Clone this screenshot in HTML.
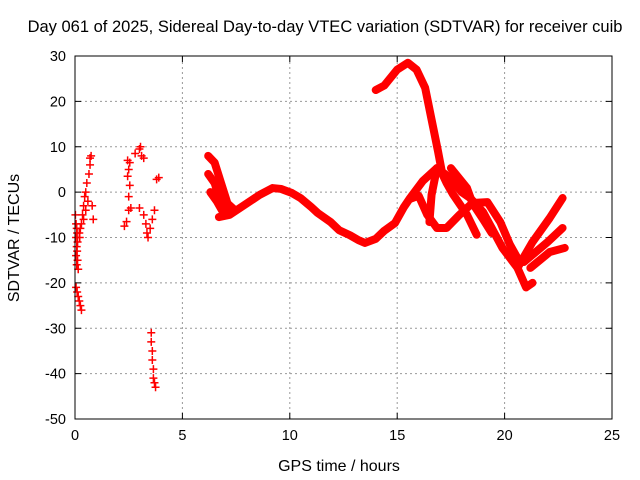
<!DOCTYPE html>
<html><head><meta charset="utf-8"><style>
body{margin:0;background:#fff}
svg{display:block;font-family:"Liberation Sans",sans-serif}
</style></head><body>
<svg id="chart" width="640" height="480">
<rect x="0" y="0" width="640" height="480" fill="#fff"/>
<text x="325" y="32" text-anchor="middle" font-size="16.5">Day 061 of 2025, Sidereal Day-to-day VTEC variation (SDTVAR) for receiver cuib</text>
<text x="339" y="471" text-anchor="middle" font-size="16">GPS time / hours</text>
<text transform="translate(19,238) rotate(-90)" text-anchor="middle" font-size="16">SDTVAR / TECUs</text>
<g id="grid"></g>
<g id="ticks"></g>
<g id="series"></g>
<rect x="75" y="56" width="537" height="363" fill="none" stroke="#000" stroke-width="1"/>
</svg>
<script>
const xTicks=[0,5,10,15,20,25];
const yTicks=[30,20,10,0,-10,-20,-30,-40,-50];
// dense curves (hours, TECU)
const curveTop=[[6.2,8.0],[6.5,6.5],[6.8,2],[7.1,-2.5],[7.4,-3.8]];
const curveMid=[[6.2,4],[6.5,2],[6.8,-2.5],[7.1,-4.5]];
const curveLow=[[6.3,0],[6.6,-2],[6.9,-4.5]];
const curveMain=[[6.7,-5.5],[7.2,-5],[7.9,-2.8],[8.6,-0.6],[9.2,0.9],[9.6,0.7],[10.1,-0.2],[10.5,-1.3],[11.0,-3.3],[11.3,-4.6],[11.9,-6.6],[12.3,-8.4],[12.8,-9.5],[13.2,-10.6],[13.5,-11.2],[14.0,-10.3],[14.4,-8.5],[14.9,-6.8],[15.3,-3.4],[15.6,-1.3],[16.2,2.5],[16.85,5.3],[17.5,3],[18.0,0],[18.4,-1.3],[19.0,-4.4],[19.9,-12.3],[20.6,-16.7],[21.0,-21],[21.3,-20]];
const curvePeak=[[14.0,22.5],[14.4,23.5],[15.0,27],[15.5,28.5],[15.9,27],[16.3,23],[16.6,16],[16.9,9],[17.1,4],[17.3,2],[17.6,-0.5],[18.25,-5],[18.7,-9.4]];
const curveCross=[[15.6,-1.5],[16.0,-0.8],[16.4,-5],[16.85,-7.9],[17.3,-7.9],[17.9,-5],[18.5,-2.4],[19.2,-2.2],[19.8,-6.6],[20.25,-11.6],[20.7,-15.4]];
const curveCross2=[[16.85,5.3],[16.6,-0.6],[16.5,-6.6]];
const curveCross3=[[17.5,5.3],[18.25,0.9],[18.5,-2.4],[19.0,-6],[19.4,-9]];
const curveRise1=[[20.6,-16.7],[21.3,-11],[22.1,-5.7],[22.7,-1.3]];
const curveRise2=[[20.9,-15.4],[22.0,-11],[22.7,-7.9]];
const curveRise3=[[21.2,-16.7],[22.1,-13.2],[22.8,-12.3]];
const curves=[curveTop,curveMid,curveLow,curveMain,curvePeak,curveCross,curveCross2,curveCross3,curveRise1,curveRise2,curveRise3];
// sparse marker points
const scatterPts=[[0.02,-5],[0.05,-7],[0.08,-8],[0.1,-9],[0.05,-10],[0.12,-11],[0.08,-12],[0.1,-13],[0.05,-14],[0.12,-15],[0.08,-16],[0.15,-17],[0.2,-9],[0.25,-8],[0.22,-10],
[0.05,-21],[0.1,-22],[0.15,-23],[0.2,-24],[0.25,-25],[0.3,-26],
[0.3,-7],[0.35,-5],[0.4,-3],[0.45,-1],[0.5,0],[0.55,2],[0.6,-2],[0.65,4],[0.7,6],[0.75,8],[0.7,7.5],[0.8,-3],[0.85,-6],[0.4,-6],[0.5,-4],
[2.3,-7.5],[2.4,-6.5],[2.5,-4],[2.6,-3.5],[2.45,3.5],[2.5,5],[2.45,7],[2.55,6.5],[2.5,-1],[2.55,1.5],
[2.8,8.5],[3.0,9.5],[3.05,10],[3.1,8],[3.2,7.5],
[3.0,-3.5],[3.2,-5],[3.3,-7],[3.35,-9],[3.4,-10],[3.5,-8],[3.6,-6],[3.7,-4],
[3.8,2.8],[3.9,3.2],
[3.55,-31],[3.55,-33],[3.6,-35],[3.6,-37],[3.65,-39],[3.65,-41],[3.7,-42],[3.75,-43]];
const X0=75,X1=612,Y0=419,Y1=56;
const xs=h=>X0+(h-0)/25*(X1-X0);
const ys=v=>Y0-(v+50)/80*(Y0-Y1);
const NS="http://www.w3.org/2000/svg";
const grid=document.getElementById('grid'),ticks=document.getElementById('ticks'),ser=document.getElementById('series');
function mk(t,a,p){const e=document.createElementNS(NS,t);for(const k in a)e.setAttribute(k,a[k]);p.appendChild(e);return e;}
xTicks.forEach(t=>{const x=xs(t);
 if(t>0&&t<25){const g=mk('line',{x1:x,x2:x,y1:Y0,y2:Y1,stroke:'#999','stroke-dasharray':'2,3'},grid);
 
 }
 const tk=mk('line',{x1:x,x2:x,y1:Y0,y2:Y0-6,stroke:'#000'},ticks);
 
 
 const tk2=mk('line',{x1:x,x2:x,y1:Y1,y2:Y1+6,stroke:'#000'},ticks);
 
 
 const l=mk('text',{x:x,y:Y0+21,'text-anchor':'middle','font-size':'14.5'},ticks);l.textContent=t;
 
 });
yTicks.forEach(t=>{const y=ys(t);
 if(t>-50&&t<30){const g=mk('line',{x1:X0,x2:X1,y1:y,y2:y,stroke:'#999','stroke-dasharray':'2,3'},grid);
 
 }
 const tk=mk('line',{x1:X0,x2:X0+6,y1:y,y2:y,stroke:'#000'},ticks);
 
 
 const tk2=mk('line',{x1:X1,x2:X1-6,y1:y,y2:y,stroke:'#000'},ticks);
 
 
 const l=mk('text',{x:X0-9,y:y+5,'text-anchor':'end','font-size':'14.5'},ticks);l.textContent=t;
 
 });
curves.forEach(c=>{const p=mk('polyline',{points:c.map(d=>xs(d[0])+','+ys(d[1])).join(' '),fill:'none',stroke:'#f00','stroke-width':'8','stroke-linejoin':'round','stroke-linecap':'round'},ser);
 
 });
scatterPts.forEach(d=>{const x=xs(d[0]),y=ys(d[1]);
 const p=mk('path',{d:`M${x-4},${y}H${x+4}M${x},${y-4}V${y+4}`,stroke:'#f00','stroke-width':'1.5'},ser);
 
 });
</script>
</body></html>
